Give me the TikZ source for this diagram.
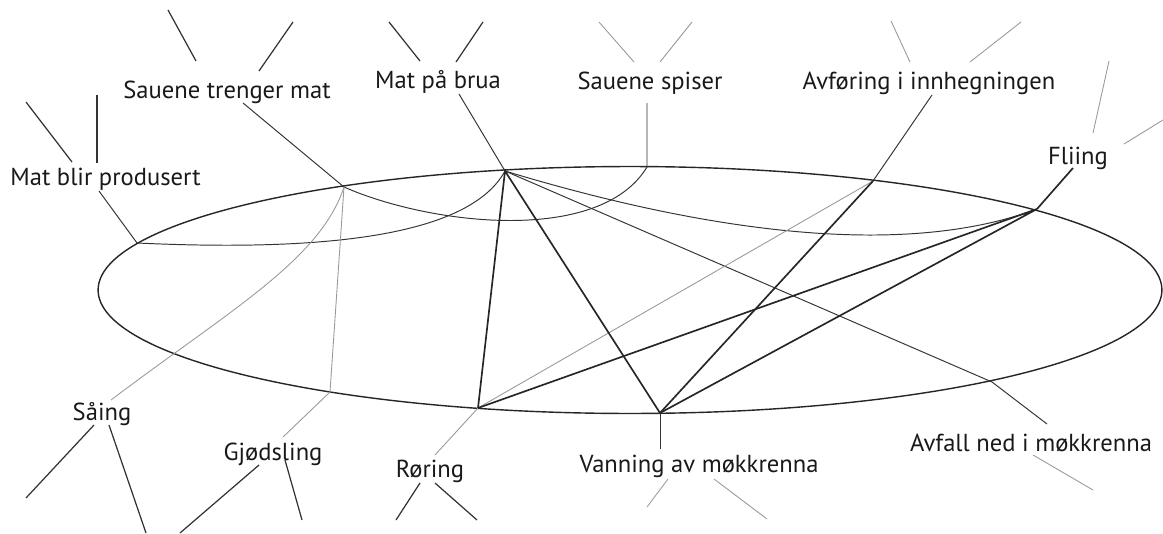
\documentclass[tikz,border=0pt]{standalone}
\usepackage{fontspec}
\setmainfont{PT Sans}
\usepackage{tikz}
\usetikzlibrary{positioning}
\tikzset{
x=0.02cm, y=-0.02cm, % one unit is one pixel of the sketch, y runs downwards
txt/.style={font=\fontsize{14}{16}\selectfont, anchor=base, inner sep=0pt, text=black!90}, % the labels
ring/.style={draw=black!85, line width=0.8pt}, % the big ellipse
link/.style={draw=black!80, line width=0.55pt}, % plain connectors
strong/.style={draw=black!85, line width=0.95pt}, % the heavy connectors
faint/.style={draw=black!40, line width=0.5pt}, % the grey connectors
tick/.style={draw=black!80, line width=0.7pt}, % short strokes round the labels
}
\begin{document}
\begin{tikzpicture}
\useasboundingbox (0,0) rectangle (1163,534);
\draw[ring] (630,290) ellipse [x radius=10.64cm, y radius=2.47cm];

\node[txt] (prod) at (105.5,185) {Mat blir produsert};
\node[txt] (tren) at (227,98) {Sauene trenger mat};
\node[txt] (brua) at (438,88) {Mat på brua};
\node[txt] (spis) at (650,89) {Sauene spiser};
\node[txt] (avfo) at (929,89) {Avføring i innhegningen};
\node[txt] (fli) at (1078,164) {Fliing};
\node[txt] (saa) at (102,420) {Såing};
\node[txt] (gjo) at (273,460) {Gjødsling};
\node[txt] (ror) at (430,477) {Røring};
\node[txt] (van) at (699,472) {Vanning av møkkrenna};
\node[txt] (avfa) at (1031,451) {Avfall ned i møkkrenna};

\coordinate (jprod) at (137,243);
\coordinate (jtren) at (344,187);
\coordinate (jbrua) at (505,171);
\coordinate (jspis) at (647,167);
\coordinate (javfo) at (873,181);
\coordinate (jfli) at (1037,209);
\coordinate (jgjo) at (330,392);
\coordinate (jror) at (478,408);
\coordinate (jvan) at (660,413);
\coordinate (javfa) at (992,382);

\coordinate (eprod) at (99,191);
\coordinate (etren) at (243,103);
\coordinate (ebrua) at (459,94);
\coordinate (espis) at (647,103);
\coordinate (eavfo) at (932,95);
\coordinate (efli) at (1073,168);
\coordinate (esaa) at (111,400);
\coordinate (egjo) at (283,437);
\coordinate (eror) at (435,455);
\coordinate (evan) at (660,449);
\coordinate (eavfa) at (1047,424);

\draw[link] (eprod) -- (jprod) (etren) -- (jtren) (ebrua) -- (jbrua)
  (espis) -- (jspis) (eavfo) -- (javfo) (eavfa) -- (javfa) -- (jbrua);
\draw[link] (jprod) .. controls (330,252) and (470,235) .. (jbrua);
\draw[link] (jtren) .. controls (430,225) and (600,245) .. (jspis);
\draw[link] (jbrua) .. controls (700,230) and (900,260) .. (jfli);
\draw[faint] (esaa) .. controls (230,310) and (320,260) .. (jtren);
\draw[faint] (egjo) -- (jgjo) -- (jtren);
\draw[faint] (eror) -- (jror) -- (javfo);
\draw[link] (evan) -- (jvan);
\draw[strong] (efli) -- (jfli);
\draw[strong] (jror) -- (jbrua) -- (jvan) -- (javfo);
\draw[strong] (jror) -- (jfli) -- (jvan);

\foreach \xa/\ya/\xb/\yb [count=\i] in {26/102/72/162, 97/95/97/163, 168/10/196/61, 293/22/259/71,
  389/22/420/61, 483/22/456/62, 94/425/26/498, 109/425/146/533, 259/465/180/533,
  285/460/302/520, 420/483/396/520, 435/483/477/520}
  {\coordinate (d\i a) at (\xa,\ya); \coordinate (d\i b) at (\xb,\yb); \draw[tick] (d\i a) -- (d\i b);}
\foreach \xa/\ya/\xb/\yb [count=\i] in {599/22/634/62, 692/22/660/62, 891/21/910/62, 1021/22/970/62,
  1109/61/1093/133, 1163/120/1124/144, 668/479/647/507, 714/479/767/519, 1033/455/1093/490}
  {\coordinate (g\i a) at (\xa,\ya); \coordinate (g\i b) at (\xb,\yb); \draw[faint] (g\i a) -- (g\i b);}
\end{tikzpicture}
\end{document}
